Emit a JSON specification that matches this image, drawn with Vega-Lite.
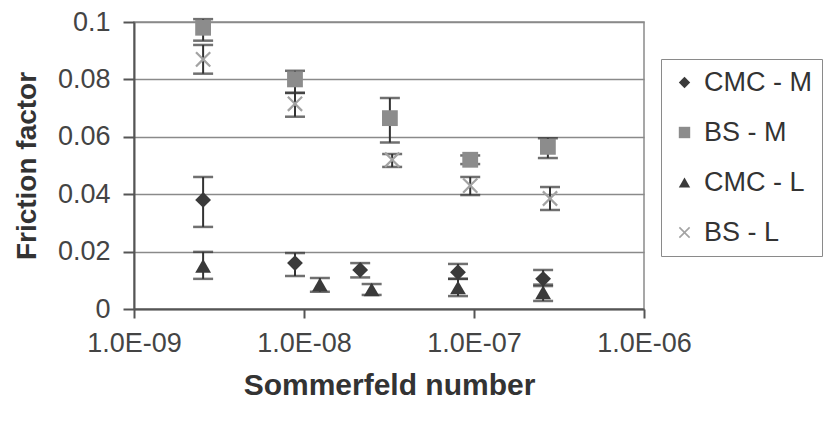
{
  "$schema": "https://vega.github.io/schema/vega-lite/v6.json",
  "width": 510,
  "height": 287,
  "autosize": {"type": "none"},
  "padding": {"left": 134, "top": 22, "right": 180, "bottom": 114},
  "background": "white",
  "config": {
    "font": "Liberation Sans",
    "view": {"stroke": "#8a8a8a", "strokeWidth": 1.5}
  },
  "data": {
    "values": [
      {"series": "CMC - M", "s": 2.55e-9, "f": 0.038, "lo": 0.0286, "hi": 0.046},
      {"series": "CMC - M", "s": 8.85e-9, "f": 0.016, "lo": 0.0115, "hi": 0.0195},
      {"series": "CMC - M", "s": 2.14e-8, "f": 0.0136, "lo": 0.011, "hi": 0.016},
      {"series": "CMC - M", "s": 8.05e-8, "f": 0.0128, "lo": 0.0105, "hi": 0.0157},
      {"series": "CMC - M", "s": 2.55e-7, "f": 0.0105, "lo": 0.008, "hi": 0.0136},
      {"series": "BS - M", "s": 2.55e-9, "f": 0.098, "lo": 0.0935, "hi": 0.101},
      {"series": "BS - M", "s": 8.85e-9, "f": 0.08, "lo": 0.0753, "hi": 0.083},
      {"series": "BS - M", "s": 3.2e-8, "f": 0.0665, "lo": 0.058, "hi": 0.0735},
      {"series": "BS - M", "s": 9.5e-8, "f": 0.052, "lo": 0.0505, "hi": 0.0535},
      {"series": "BS - M", "s": 2.72e-7, "f": 0.0565, "lo": 0.0526, "hi": 0.0595},
      {"series": "CMC - L", "s": 2.55e-9, "f": 0.015, "lo": 0.0105, "hi": 0.0199},
      {"series": "CMC - L", "s": 1.24e-8, "f": 0.0085, "lo": 0.006, "hi": 0.0108},
      {"series": "CMC - L", "s": 2.5e-8, "f": 0.0068, "lo": 0.0049, "hi": 0.0087},
      {"series": "CMC - L", "s": 8.05e-8, "f": 0.0075, "lo": 0.0045, "hi": 0.0105},
      {"series": "CMC - L", "s": 2.55e-7, "f": 0.0058, "lo": 0.0028, "hi": 0.0085},
      {"series": "BS - L", "s": 2.55e-9, "f": 0.087, "lo": 0.082, "hi": 0.092},
      {"series": "BS - L", "s": 8.85e-9, "f": 0.0715, "lo": 0.067, "hi": 0.0753},
      {"series": "BS - L", "s": 3.3e-8, "f": 0.052, "lo": 0.0495, "hi": 0.054},
      {"series": "BS - L", "s": 9.5e-8, "f": 0.043, "lo": 0.0397, "hi": 0.046},
      {"series": "BS - L", "s": 2.8e-7, "f": 0.0385, "lo": 0.0345, "hi": 0.0425}
    ]
  },
  "encoding": {
    "x": {
      "field": "s",
      "type": "quantitative",
      "scale": {"type": "log", "domain": [1e-9, 1e-6], "nice": false},
      "axis": {
        "title": "Sommerfeld number",
        "values": [1e-9, 1e-8, 1e-7, 1e-6],
        "labelExpr": "'1.0E-0' + round(-log(datum.value)/LN10)",
        "grid": false,
        "domainColor": "#555",
        "domainWidth": 2,
        "tickColor": "#555",
        "tickWidth": 2,
        "tickSize": 9,
        "labelFontSize": 27,
        "labelColor": "#444",
        "labelPadding": 12,
        "labelFlush": false,
        "titleFontSize": 30,
        "titleFontWeight": "bold",
        "titleColor": "#333",
        "titlePadding": 14
      }
    },
    "y": {
      "type": "quantitative",
      "scale": {"domain": [0, 0.1], "nice": false},
      "axis": {
        "title": "Friction factor",
        "values": [0, 0.02, 0.04, 0.06, 0.08, 0.1],
        "format": "~g",
        "grid": true,
        "gridColor": "#8a8a8a",
        "gridWidth": 1.5,
        "domainColor": "#555",
        "domainWidth": 2,
        "tickColor": "#555",
        "tickWidth": 2,
        "tickSize": 11,
        "labelFontSize": 27,
        "labelColor": "#444",
        "labelPadding": 13,
        "labelFlush": false,
        "titleFontSize": 28,
        "titleFontWeight": "bold",
        "titleColor": "#333",
        "titlePadding": 16
      }
    }
  },
  "layer": [
    {
      "mark": {"type": "rule", "color": "#333", "strokeWidth": 2},
      "encoding": {"y": {"field": "lo"}, "y2": {"field": "hi"}}
    },
    {
      "mark": {"type": "tick", "orient": "horizontal", "color": "#333", "size": 20, "thickness": 2.5},
      "encoding": {"y": {"field": "lo"}}
    },
    {
      "mark": {"type": "tick", "orient": "horizontal", "color": "#333", "size": 20, "thickness": 2.5},
      "encoding": {"y": {"field": "hi"}}
    },
    {
      "mark": {"type": "point", "filled": true, "opacity": 1, "size": 250},
      "encoding": {
        "y": {"field": "f"},
        "shape": {
          "field": "series",
          "type": "nominal",
          "scale": {
            "domain": ["CMC - M", "BS - M", "CMC - L", "BS - L"],
            "range": ["diamond", "square", "triangle-up", "M-1,-0.8L-0.8,-1L0,-0.2L0.8,-1L1,-0.8L0.2,0L1,0.8L0.8,1L0,0.2L-0.8,1L-1,0.8L-0.2,0Z"]
          },
          "legend": {
            "title": null,
            "orient": "none",
            "legendX": 527,
            "legendY": 37,
            "padding": 10,
            "strokeColor": "#8a8a8a",
            "fillColor": "white",
            "symbolSize": 130,
            "symbolOffset": 0,
            "labelOffset": 6,
            "labelFontSize": 27,
            "labelColor": "#333",
            "rowPadding": 22,
            "symbolStrokeWidth": 0
          }
        },
        "color": {
          "field": "series",
          "type": "nominal",
          "scale": {
            "domain": ["CMC - M", "BS - M", "CMC - L", "BS - L"],
            "range": ["#3a3a3a", "#8c8c8c", "#3a3a3a", "#a3a3a3"]
          }
        }
      }
    }
  ]
}
